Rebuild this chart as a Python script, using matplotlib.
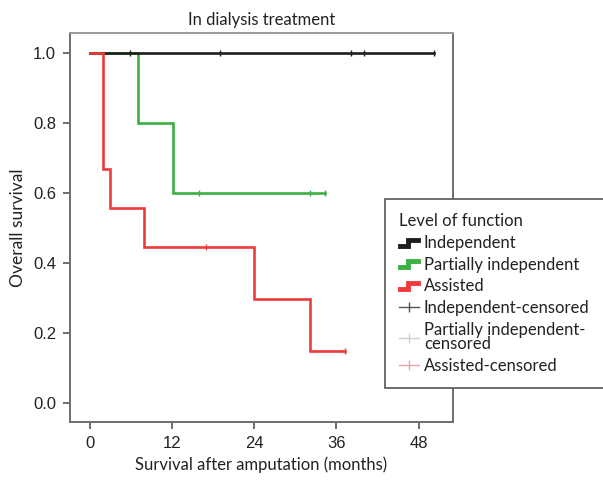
import numpy as np
import matplotlib
matplotlib.use("Agg")
import matplotlib.pyplot as plt
from matplotlib.lines import Line2D
from matplotlib.legend_handler import HandlerBase

plt.rcParams['font.family'] = ['Lato', 'DejaVu Sans']

# ---- data ----
ind_t = [0, 50.2]
ind_s = [1.0, 1.0]
ind_cens = [5.9, 19.0, 38.2, 40.1, 50.2]

part_t = [0, 7.0, 12.2, 34.3]
part_s = [1.0, 0.8, 0.6, 0.6]
part_cens = [16.0, 32.2, 34.3]

ass_t = [0, 1.9, 2.9, 7.9, 24.0, 32.1, 37.3]
ass_s = [1.0, 0.667, 0.556, 0.444, 0.296, 0.148, 0.148]
ass_cens = [17.0, 37.3]

xticks = [0, 12, 24, 36, 48]
yticks = [0.0, 0.2, 0.4, 0.6, 0.8, 1.0]

labels = ["Independent", "Partially independent", "Assisted",
          "Independent-censored", "Partially independent-\ncensored", "Assisted-censored"]

C_BLACK = "#1e1e1e"
C_GREEN = "#3cb043"
C_RED = "#f03a3a"
TXT = "#222222"


def surv_at(t, times, surv):
    idx = np.searchsorted(times, t, side='right') - 1
    return np.asarray(surv)[idx]


fig = plt.figure(figsize=(6.03, 4.82), dpi=100)
ax = fig.add_axes([0.116, 0.1245, 0.635, 0.807])

series = [
    (ind_t, ind_s, ind_cens, C_BLACK, 3),
    (part_t, part_s, part_cens, C_GREEN, 2),
    (ass_t, ass_s, ass_cens, C_RED, 4),
]
for t, s, cens, col, z in series:
    ax.step(t, s, where='post', color=col, lw=1.9, zorder=z, solid_joinstyle='miter')
    ax.plot(cens, surv_at(cens, t, s), ls='none', marker='|', ms=5, mew=1.0,
            color=col, zorder=z)

ax.set_xlim(-2.9, 53.0)
ax.set_ylim(-0.055, 1.057)
ax.set_xticks(xticks)
ax.set_xticklabels([str(v) for v in xticks])
ax.set_yticks(yticks)
ax.set_yticklabels([f"{v:.1f}" for v in yticks])

for sp in ax.spines.values():
    sp.set_color("#6e6e6e")
    sp.set_linewidth(1.4)
ax.spines['top'].set_color("#9a9a9a")
ax.tick_params(direction='out', length=5, width=1.4, color="#6e6e6e",
               labelsize=12, labelcolor=TXT, pad=5)
for lab in ax.get_xticklabels() + ax.get_yticklabels():
    lab.set_family(['Liberation Sans', 'DejaVu Sans'])

ax.set_title("In dialysis treatment", fontsize=12, color=TXT, pad=6)
ax.set_xlabel("Survival after amputation (months)", fontsize=12, color=TXT, labelpad=4)
ax.set_ylabel("Overall survival", fontsize=12.5, color=TXT, labelpad=5)


class StepHandle:
    def __init__(self, color):
        self.color = color


class StepHandler(HandlerBase):
    def create_artists(self, legend, orig_handle, xdescent, ydescent, width, height,
                       fontsize, trans):
        x0, y0 = -xdescent, -ydescent
        w, h = width, height
        xs = [x0 + 0.05 * w, x0 + 0.45 * w, x0 + 0.45 * w, x0 + 0.95 * w]
        ys = [y0 + 0.2 * h, y0 + 0.2 * h, y0 + 0.7 * h, y0 + 0.7 * h]
        ln = Line2D(xs, ys, color=orig_handle.color, lw=3.5, transform=trans,
                    solid_joinstyle='miter')
        return [ln]


def cens_handle(col):
    return Line2D([0], [0], color=col, lw=1.0, marker='|', ms=7, mew=1.0)


handles = [StepHandle(C_BLACK), StepHandle(C_GREEN), StepHandle(C_RED),
           cens_handle("#555555"), cens_handle("#cfcfcf"), cens_handle("#f4a0a8")]

leg = fig.legend(handles, labels, loc='upper left', bbox_to_anchor=(0.638, 0.587),
                 bbox_transform=fig.transFigure, title="Level of function",
                 fontsize=12, title_fontsize=12, frameon=True, fancybox=False,
                 handlelength=1.2, handletextpad=0.3, labelspacing=0.34,
                 borderpad=0.85, borderaxespad=0.0, alignment='left',
                 handler_map={StepHandle: StepHandler()})
leg.get_frame().set_edgecolor("#555555")
leg.get_frame().set_linewidth(1.2)
leg.get_frame().set_facecolor("white")
leg.get_frame().set_alpha(1.0)
for txt in leg.get_texts():
    txt.set_color(TXT)
    txt.set_linespacing(0.9)
leg.get_title().set_color(TXT)

fig.savefig("out.png", dpi=100)
